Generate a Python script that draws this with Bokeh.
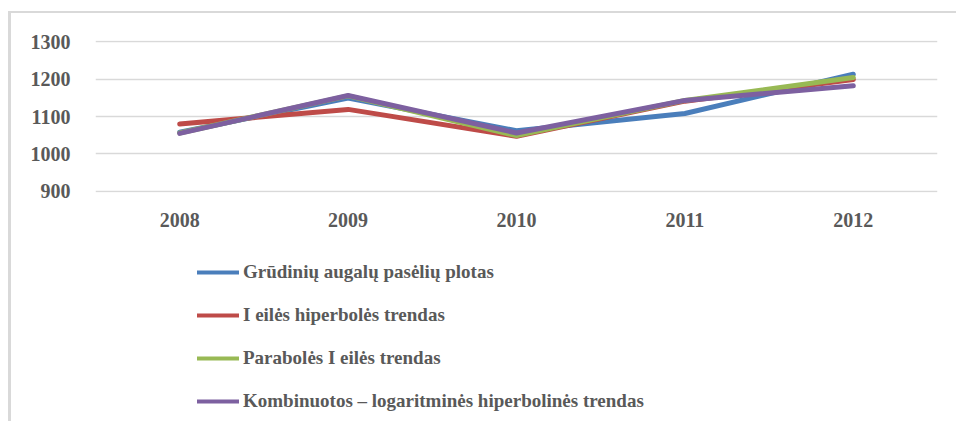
from bokeh.plotting import figure
from bokeh.layouts import column
from bokeh.models import FactorRange, Range1d, Legend, LegendItem, FixedTicker
from bokeh.embed import file_html
from bokeh.resources import INLINE

years = ["2008", "2009", "2010", "2011", "2012"]
actual = [1058, 1149, 1062, 1108, 1213]
hyperbola = [1080, 1119, 1047, 1141, 1199]
parabola = [1056, 1155, 1049, 1143, 1204]
combined = [1055, 1156, 1056, 1143, 1182]
names = [
    "Grūdinių augalų pasėlių plotas",
    "I eilės hiperbolės trendas",
    "Parabolės I eilės trendas",
    "Kombinuotos – logaritminės hiperbolinės trendas",
]
colors = ["#4A7EBB", "#BE4B48", "#98B954", "#7D60A0"]
y_ticks = [900, 1000, 1100, 1200, 1300]
series_all = [actual, hyperbola, parabola, combined]

FONT = "Liberation Serif"
TXT = "#595959"
BORDER = "#D9D9D9"

p = figure(
    x_range=FactorRange(*years, range_padding=0),
    y_range=Range1d(897, 1303),
    width=948, height=230,
    output_backend="svg", toolbar_location=None,
    min_border_left=84, min_border_right=22, min_border_top=27, min_border_bottom=51,
)
p.styles = {"margin-top": "11px", "margin-left": "8px",
            "border-top": f"2px solid {BORDER}", "border-left": f"3px solid {BORDER}"}

for series, c in zip(series_all, colors):
    p.line(years, series, line_color=c, line_width=5, line_join="round", line_cap="round")

p.outline_line_color = None
p.xgrid.grid_line_color = None
p.ygrid.grid_line_color = BORDER
p.ygrid.grid_line_width = 1.5
p.yaxis.ticker = FixedTicker(ticks=y_ticks)

for ax in (p.xaxis[0], p.yaxis[0]):
    ax.axis_line_color = None
    ax.major_tick_line_color = None
    ax.minor_tick_line_color = None
    ax.major_label_text_font = FONT
    ax.major_label_text_font_style = "bold"
    ax.major_label_text_color = TXT
    ax.major_label_text_font_size = "20px"
p.yaxis.major_label_standoff = 19
p.xaxis.major_label_standoff = 14

# legend panel: same series drawn outside its visible range, only the legend shows
leg = figure(
    x_range=FactorRange(*years), y_range=Range1d(0, 1),
    width=948, height=180,
    output_backend="svg", toolbar_location=None,
    min_border=0, x_axis_type=None, y_axis_type=None,
)
leg.styles = {"margin-left": "8px", "border-left": f"3px solid {BORDER}"}
leg.outline_line_color = None
leg.grid.grid_line_color = None
renderers = []
for series, c in zip(series_all, colors):
    renderers.append(leg.line(years, series, line_color=c, line_width=4, line_cap="round"))

legend = Legend(
    items=[LegendItem(label=n, renderers=[r]) for n, r in zip(names, renderers)],
    location=(102, 9),
    orientation="vertical",
    label_text_font=FONT, label_text_font_style="bold", label_text_color=TXT,
    label_text_font_size="19px",
    glyph_width=42, glyph_height=20, label_height=20, spacing=21,
    label_standoff=4, padding=0, margin=0,
    border_line_color=None, background_fill_alpha=0,
)
leg.add_layout(legend, "center")

layout = column(p, leg, spacing=0)
open("out.html", "w").write(file_html(layout, INLINE))
